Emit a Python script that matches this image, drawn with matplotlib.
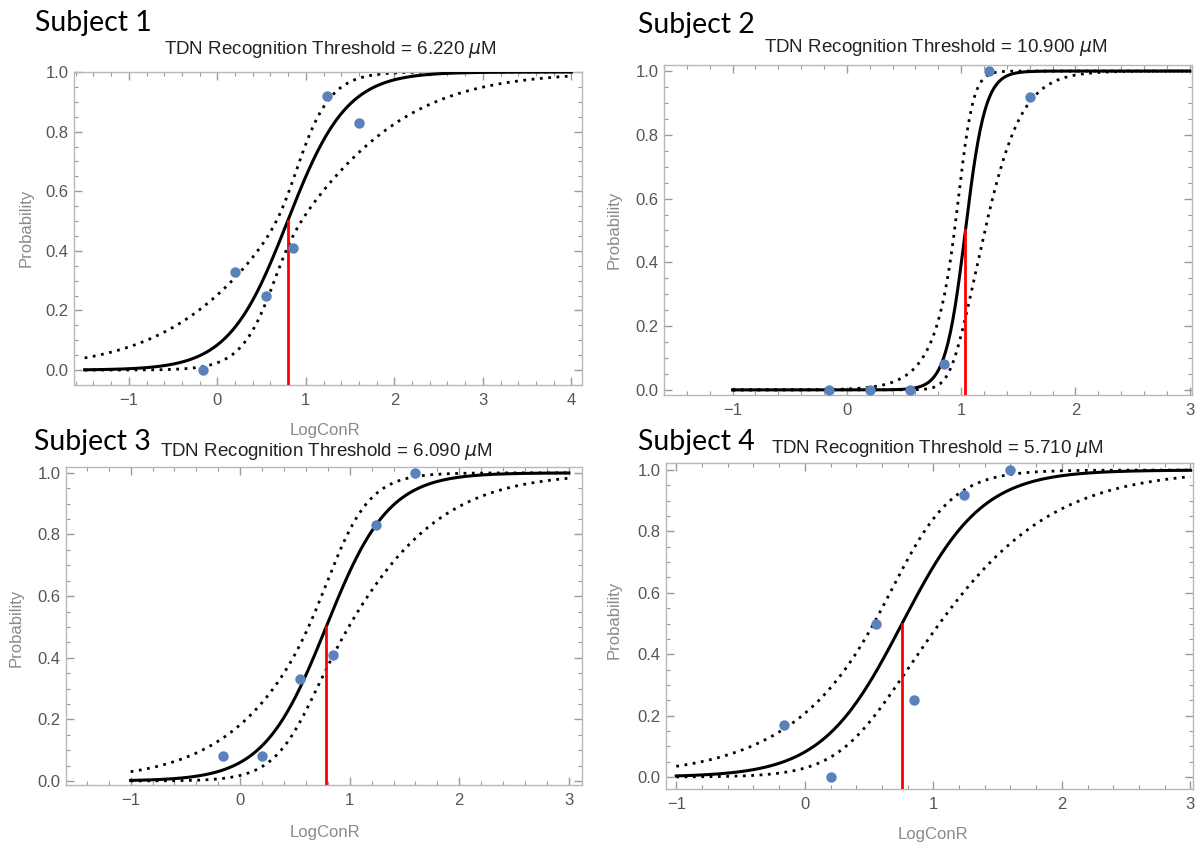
import numpy as np
import matplotlib
matplotlib.use("Agg")
import matplotlib.pyplot as plt
from matplotlib.ticker import MultipleLocator, FormatStrFormatter

# observed proportions per concentration step (log10 of uM)
log_conc = [-0.16, 0.2, 0.55, 0.85, 1.24, 1.6]
prob_s1 = [0.0, 0.33, 0.25, 0.41, 0.92, 0.83]
prob_s2 = [0.0, 0.0, 0.0, 0.08, 1.0, 0.92]
prob_s3 = [0.08, 0.08, 0.33, 0.41, 0.83, 1.0]
prob_s4 = [0.17, 0.0, 0.5, 0.25, 0.92, 1.0]

subjects = ["Subject 1", "Subject 2", "Subject 3", "Subject 4"]
thresholds = [6.22, 10.9, 6.09, 5.71]      # uM, p = 0.5 point of the fit
slopes = [3.0, 11.5, 3.5, 3.2]             # logit slope of the fit
band_c = [0.35, 1.1, 0.55, 0.7]            # band half width (logit) at its narrowest
band_d = [1.64, 6.3, 1.6, 1.37]            # band growth away from centre
band_xc = [0.76, 0.95, 0.7, 0.6]           # where the band is narrowest
fit_from = [-1.5, -1, -1, -1]
fit_to = [4, 3, 3, 3]
probs = [prob_s1, prob_s2, prob_s3, prob_s4]

W, H = 1199, 844
fig = plt.figure(figsize=(W / 100, H / 100), dpi=100)

# frame boxes in pixels: left, right, top, bottom
frames = [(74, 582, 72, 385), (664, 1192, 65, 395), (66, 582, 467, 785), (666, 1193, 463, 789)]
xlims = [(-1.62, 4.12), (-1.60, 3.02), (-1.59, 3.12), (-1.08, 3.02)]
ylims = [(-0.05, 1.0), (-0.016, 1.019), (-0.013, 1.019), (-0.039, 1.023)]
subj_pos = [(35, 23), (638, 25), (34, 442), (638, 442)]
title_pos = [(330, 50), (936, 48), (326, 452), (937, 448)]
ylab_pos = [(26, 228), (614, 230), (16, 628), (614, 620)]
xlab_pos = [(325, 430), None, (325, 832), (933, 835)]

sans = ["Liberation Sans", "DejaVu Sans"]
frame_col = "#b8b8b8"
tick_col = "#9a9a9a"
lab_col = "#555555"
dot_blue = "#5b81bd"


def fx(px):
    return px / W


def fy(py):
    return 1 - py / H


for i in range(4):
    l, r, t, b = frames[i]
    ax = fig.add_axes([fx(l), fy(b), (r - l) / W, (b - t) / H])
    x0 = np.log10(thresholds[i])
    k = slopes[i]
    xs = np.linspace(fit_from[i], fit_to[i], 400)
    eta = k * (xs - x0)
    w = np.sqrt(band_c[i] ** 2 + band_d[i] ** 2 * (xs - band_xc[i]) ** 2)
    ax.plot(xs, 1 / (1 + np.exp(-(eta + w))), color="black", lw=2.0,
            ls=(0, (1, 2)), dash_capstyle="butt", zorder=2)
    ax.plot(xs, 1 / (1 + np.exp(-(eta - w))), color="black", lw=2.0,
            ls=(0, (1, 2)), dash_capstyle="butt", zorder=2)
    ax.plot(xs, 1 / (1 + np.exp(-eta)), color="black", lw=2.2, zorder=3)
    ax.plot([x0, x0], [-0.2, 0.5], color="#ff0000", lw=2.0, zorder=4)
    ax.plot(log_conc, probs[i], "o", color=dot_blue, ms=7.5, mec="none", zorder=5)

    ax.set_xlim(*xlims[i])
    ax.set_ylim(*ylims[i])
    ax.xaxis.set_major_locator(MultipleLocator(1))
    ax.xaxis.set_minor_locator(MultipleLocator(0.2))
    ax.yaxis.set_major_locator(MultipleLocator(0.2))
    ax.yaxis.set_minor_locator(MultipleLocator(0.05))
    ax.yaxis.set_major_formatter(FormatStrFormatter("%.1f"))
    ax.tick_params(which="both", direction="in", top=True, right=True,
                   color=tick_col, labelcolor=lab_col, labelsize=12)
    ax.tick_params(which="major", length=6, width=1)
    ax.tick_params(which="minor", length=3, width=0.8)
    ax.tick_params(axis="x", pad=6)
    ax.tick_params(axis="y", pad=4)
    for lbl in ax.get_xticklabels() + ax.get_yticklabels():
        lbl.set_family(sans)
    for s in ax.spines.values():
        s.set_color(frame_col)
        s.set_linewidth(1.0)

    sx, sy = subj_pos[i]
    fig.text(fx(sx), fy(sy), subjects[i], fontsize=20.5, family=["Lato", "DejaVu Sans"],
             ha="left", va="center", color="black")
    tx, ty = title_pos[i]
    fig.text(fx(tx), fy(ty), "TDN Recognition Threshold = %.3f $\\mu$M" % thresholds[i],
             fontsize=13.5, family=sans, ha="center", va="center", color="#222222")
    yx, yy = ylab_pos[i]
    fig.text(fx(yx), fy(yy), "Probability", rotation=90, fontsize=12, family=sans,
             ha="center", va="center", color="#8a8a8a")
    if xlab_pos[i] is not None:
        lx, ly = xlab_pos[i]
        fig.text(fx(lx), fy(ly), "LogConR", fontsize=12, family=sans,
                 ha="center", va="center", color="#8a8a8a")

fig.savefig("out.png", dpi=100, facecolor="white")
